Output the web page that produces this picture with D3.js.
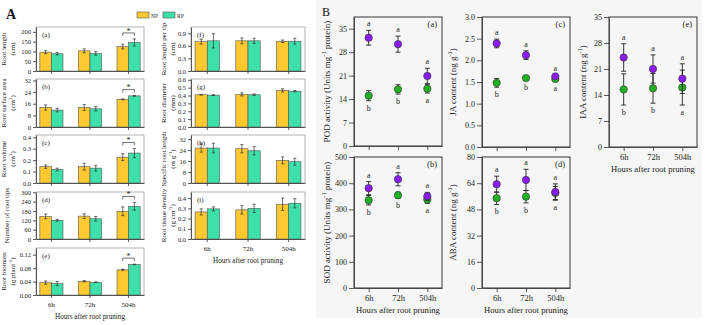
<!DOCTYPE html>
<html>
<head>
<meta charset="utf-8">
<script src="https://cdn.jsdelivr.net/npm/d3@7/dist/d3.min.js"></script>
<style>
  body { margin: 0; background: #fff; }
  svg { display: block; font-family: "Liberation Serif", "DejaVu Serif", serif; }
</style>
</head>
<body>
<script>
const hours = ['6h', '72h', '504h'];

// A: root morphology, NP vs RP (mean, SE)
const lengthNP = [96, 103, 125], lengthNPse = [8, 10, 12];
const lengthRP = [88, 90, 146], lengthRPse = [6, 9, 18];
const areaNP = [13.4, 13.4, 19.0], areaNPse = [1.8, 2.0, 0.3];
const areaRP = [11.6, 12.5, 21.4], areaRPse = [1.2, 1.5, 0.3];
const volumeNP = [0.143, 0.143, 0.226], volumeNPse = [0.015, 0.03, 0.03];
const volumeRP = [0.118, 0.13, 0.262], volumeRPse = [0.012, 0.025, 0.04];
const tipsNP = [145, 147, 178], tipsNPse = [15, 15, 28];
const tipsRP = [120, 130, 210], tipsRPse = [6, 15, 25];
const biomassNP = [0.037, 0.041, 0.075], biomassNPse = [0.005, 0.002, 0.002];
const biomassRP = [0.034, 0.038, 0.091], biomassRPse = [0.006, 0.001, 0.001];
const perTipNP = [0.70, 0.72, 0.71], perTipNPse = [0.06, 0.07, 0.03];
const perTipRP = [0.72, 0.72, 0.71], perTipRPse = [0.17, 0.06, 0.07];
const diameterNP = [0.41, 0.415, 0.465], diameterNPse = [0.005, 0.02, 0.02];
const diameterRP = [0.405, 0.41, 0.455], diameterRPse = [0.005, 0.01, 0.008];
const srlNP = [25.5, 25, 16.5], srlNPse = [3, 3, 2.5];
const srlRP = [25.5, 23.5, 15.5], srlRPse = [3.5, 3, 2.5];
const densityNP = [0.265, 0.285, 0.34], densityNPse = [0.03, 0.04, 0.06];
const densityRP = [0.295, 0.30, 0.35], densityRPse = [0.02, 0.04, 0.045];

// B: enzymes and hormones, RP (purple) vs NP (green)
const podRP = [32.3, 30.4, 20.9], podRPse = [2.2, 2.4, 2.3];
const podNP = [15.0, 16.9, 17.1], podNPse = [1.5, 1.4, 1.3];
const sodRP = [381, 415, 350], sodRPse = [25, 25, 15];
const sodNP = [335, 354, 338], sodNPse = [18, 12, 15];
const jaRP = [2.39, 2.12, 1.63], jaRPse = [0.1, 0.1, 0.04];
const jaNP = [1.48, 1.59, 1.57], jaNPse = [0.1, 0.04, 0.04];
const abaRP = [63.4, 66, 58.6], abaRPse = [4.9, 6.5, 5];
const abaNP = [54.8, 55.8, 58], abaNPse = [3.8, 3.8, 4];
const iaaRP = [24.1, 21.0, 18.4], iaaRPse = [3.7, 3.8, 4.0];
const iaaNP = [15.5, 15.8, 16.0], iaaNPse = [4.2, 4.0, 4.7];
const lettersRP = ['a', 'a', 'a'];
const lettersNP = ['b', 'b', 'a'];

const colNP = '#fdc830', colRP = '#3de0aa';
const colPurple = '#8a1cf0', colGreen = '#22b022';

const svg = d3.select('body').append('svg').attr('width', 705).attr('height', 325);

// light backdrop behind part B
svg.append('rect').attr('x', 316).attr('y', 0).attr('width', 386).attr('height', 318).attr('fill', '#f6f6f6');

// text with ^{..} superscripts
function rich(text, str, size) {
	let up = false;
	str.split(/(\^\{[^}]*\})/).forEach((s) => {
		if (!s) return;
		const m = s.match(/^\^\{(.*)\}$/);
		if (m) {
			text.append('tspan').attr('dy', -size * 0.4).attr('font-size', size * 0.7).text(m[1]);
			up = true;
		} else {
			text.append('tspan').attr('dy', up ? size * 0.4 : 0).text(s);
			up = false;
		}
	});
}

function yTitle(lines, xs, cy, size) {
	lines.forEach((line, i) => {
		const t = svg.append('text')
			.attr('transform', `translate(${xs[i]},${cy}) rotate(-90)`)
			.attr('text-anchor', 'middle')
			.attr('dy', '0.35em')
			.attr('font-size', size)
			.attr('fill', '#222');
		rich(t, line, size);
	});
}

function styleAxis(g, size) {
	g.attr('font-family', null).attr('font-size', size);
	g.selectAll('text').attr('fill', '#222');
	g.selectAll('line,path').attr('stroke', '#333').attr('stroke-width', 0.8);
}

// ---------- A: grouped bars ----------
const colsA = [[36, 144], [191, 305]];
const rowsA = [[27, 71], [79, 127], [135, 183], [192, 239], [248, 295]];
const titleX = [[6, 15], [166, 175]];

const barPanels = [
	{ tag: '(a)', col: 0, row: 0, title: ['Root length', '(cm)'], max: 225, ticks: [0, 50, 100, 150, 200], fmt: 'd',
		np: lengthNP, npSe: lengthNPse, rp: lengthRP, rpSe: lengthRPse, sig: true },
	{ tag: '(b)', col: 0, row: 1, title: ['Root surface area', '(cm^{2})'], max: 33, ticks: [0, 8, 16, 24, 32], fmt: 'd',
		np: areaNP, npSe: areaNPse, rp: areaRP, rpSe: areaRPse, sig: true },
	{ tag: '(c)', col: 0, row: 2, title: ['Root volume', '(cm^{3})'], max: 0.42, ticks: [0, 0.1, 0.2, 0.3, 0.4], fmt: '.1f',
		np: volumeNP, npSe: volumeNPse, rp: volumeRP, rpSe: volumeRPse, sig: true },
	{ tag: '(d)', col: 0, row: 3, title: ['Number of root tips'], max: 302, ticks: [0, 60, 120, 180, 240, 300], fmt: 'd',
		np: tipsNP, npSe: tipsNPse, rp: tipsRP, rpSe: tipsRPse, sig: true },
	{ tag: '(e)', col: 0, row: 4, title: ['Root biomass', '(g plant^{-1})'], max: 0.14, ticks: [0, 0.04, 0.08, 0.12], fmt: '.2f',
		np: biomassNP, npSe: biomassNPse, rp: biomassRP, rpSe: biomassRPse, sig: true, bottom: true },
	{ tag: '(f)', col: 1, row: 0, title: ['Root length per tip', '(cm)'], max: 1.05, ticks: [0, 0.3, 0.6, 0.9], fmt: '.1f',
		np: perTipNP, npSe: perTipNPse, rp: perTipRP, rpSe: perTipRPse },
	{ tag: '(g)', col: 1, row: 1, title: ['Root diameter', '(mm)'], max: 0.61, ticks: [0, 0.1, 0.2, 0.3, 0.4, 0.5, 0.6], fmt: '.1f',
		np: diameterNP, npSe: diameterNPse, rp: diameterRP, rpSe: diameterRPse },
	{ tag: '(h)', col: 1, row: 2, title: ['Specific root length', '(m g^{-1})'], max: 35, ticks: [0, 8, 16, 24, 32], fmt: 'd',
		np: srlNP, npSe: srlNPse, rp: srlRP, rpSe: srlRPse },
	{ tag: '(i)', col: 1, row: 3, title: ['Root tissue density', '(g cm^{-3})'], max: 0.46, ticks: [0, 0.1, 0.2, 0.3, 0.4], fmt: '.1f',
		np: densityNP, npSe: densityNPse, rp: densityRP, rpSe: densityRPse, bottom: true },
];

function barPanel(p) {
	const [x0, x1] = colsA[p.col];
	const [y0, y1] = rowsA[p.row];
	const x = d3.scaleBand().domain(hours).range([x0, x1]).paddingInner(0.4).paddingOuter(0.1);
	const sub = d3.scaleBand().domain(['NP', 'RP']).range([0, x.bandwidth()]);
	const y = d3.scaleLinear().domain([0, p.max]).range([y1, y0]);
	const g = svg.append('g');

	g.append('rect').attr('x', x0).attr('y', y0).attr('width', x1 - x0).attr('height', y1 - y0)
		.attr('fill', 'none').attr('stroke', '#a0a0a0').attr('stroke-width', 0.8);

	const series = [
		{ key: 'NP', vals: p.np, se: p.npSe, fill: colNP },
		{ key: 'RP', vals: p.rp, se: p.rpSe, fill: colRP },
	];
	series.forEach((s) => {
		const cells = hours.map((h, i) => ({ h, v: s.vals[i], e: s.se[i] }));
		g.selectAll(null).data(cells).join('rect')
			.attr('x', (d) => x(d.h) + sub(s.key))
			.attr('y', (d) => y(d.v))
			.attr('width', sub.bandwidth())
			.attr('height', (d) => y(0) - y(d.v))
			.attr('fill', s.fill)
			.attr('stroke', '#555')
			.attr('stroke-width', 0.6);
		const cx = (d) => x(d.h) + sub(s.key) + sub.bandwidth() / 2;
		g.selectAll(null).data(cells).join('path')
			.attr('d', (d) => {
				const a = y(d.v + d.e), b = y(d.v - d.e), c = cx(d);
				return `M${c - 1.6},${a}H${c + 1.6}M${c},${a}V${b}M${c - 1.6},${b}H${c + 1.6}`;
			})
			.attr('fill', 'none').attr('stroke', '#333').attr('stroke-width', 0.7);
	});

	// significance bracket on 504h
	if (p.sig) {
		const i = 2, h = hours[i];
		const top = Math.max(p.np[i] + p.npSe[i], p.rp[i] + p.rpSe[i]);
		const by = Math.max(y0 + 4, y(top) - 6);
		const c1 = x(h) + sub('NP') + sub.bandwidth() / 2;
		const c2 = x(h) + sub('RP') + sub.bandwidth() / 2;
		g.append('path').attr('d', `M${c1},${by + 3}V${by}H${c2}V${by + 3}`)
			.attr('fill', 'none').attr('stroke', '#333').attr('stroke-width', 0.7);
		g.append('text').attr('x', (c1 + c2) / 2).attr('y', by + 1).attr('text-anchor', 'middle')
			.attr('font-size', 8).attr('fill', '#222').text('*');
	}

	g.append('text').attr('x', x0 + 6).attr('y', y0 + 10).attr('font-size', 7).attr('fill', '#222').text(p.tag);

	const ya = g.append('g').attr('transform', `translate(${x0},0)`)
		.call(d3.axisLeft(y).tickValues(p.ticks).tickFormat(d3.format(p.fmt)).tickSize(3).tickPadding(2).tickSizeOuter(0));
	styleAxis(ya, 6.5);
	const xa = g.append('g').attr('transform', `translate(0,${y1})`)
		.call(d3.axisBottom(x).tickSize(3).tickPadding(4).tickSizeOuter(0).tickFormat(p.bottom ? null : () => ''));
	styleAxis(xa, 7);

	yTitle(p.title, p.title.length > 1 ? titleX[p.col] : [titleX[p.col][0] + 3], (y0 + y1) / 2, 7);

	if (p.bottom) {
		svg.append('text').attr('x', (x0 + x1) / 2).attr('y', y1 + 24).attr('text-anchor', 'middle')
			.attr('font-size', 7.2).attr('fill', '#222').text('Hours after root pruning');
	}
}
barPanels.forEach(barPanel);

// legend and part label for A
svg.append('text').attr('x', 6).attr('y', 19).attr('font-size', 14).attr('font-weight', 'bold').attr('fill', '#111').text('A');
[{ k: 'NP', c: colNP, x: 137 }, { k: 'RP', c: colRP, x: 163 }].forEach((d) => {
	svg.append('rect').attr('x', d.x).attr('y', 12).attr('width', 12).attr('height', 6)
		.attr('fill', d.c).attr('stroke', '#555').attr('stroke-width', 0.6);
	svg.append('text').attr('x', d.x + 14).attr('y', 17.5).attr('font-size', 5.5).attr('fill', '#222').text(d.k);
});

// ---------- B: mean +/- SE points ----------
const dotPanels = [
	{ tag: '(a)', box: [354, 442, 17, 146], max: 38.5, ticks: [0, 7, 14, 21, 28, 35], fmt: 'd',
		title: 'POD activity (Units mg^{-1} protein)', tx: 330,
		rp: podRP, rpSe: podRPse, np: podNP, npSe: podNPse },
	{ tag: '(b)', box: [354, 442, 157, 288], max: 500, ticks: [0, 100, 200, 300, 400, 500], fmt: 'd',
		title: 'SOD activity (Units mg^{-1} protein)', tx: 330,
		rp: sodRP, rpSe: sodRPse, np: sodNP, npSe: sodNPse, bottom: true },
	{ tag: '(c)', box: [482, 570, 17, 147], max: 3, ticks: [0, 0.5, 1, 1.5, 2, 2.5, 3], fmt: '.1f',
		title: 'JA content (ng g^{-1})', tx: 456,
		rp: jaRP, rpSe: jaRPse, np: jaNP, npSe: jaNPse },
	{ tag: '(d)', box: [482, 570, 157, 288], max: 80, ticks: [0, 16, 32, 48, 64, 80], fmt: 'd',
		title: 'ABA content (ng g^{-1})', tx: 456,
		rp: abaRP, rpSe: abaRPse, np: abaNP, npSe: abaNPse, bottom: true },
	{ tag: '(e)', box: [609, 697, 17, 147], max: 35, ticks: [0, 7, 14, 21, 28, 35], fmt: 'd',
		title: 'IAA content (ng g^{-1})', tx: 586,
		rp: iaaRP, rpSe: iaaRPse, np: iaaNP, npSe: iaaNPse, bottom: true },
];

function dotPanel(p) {
	const [x0, x1, y0, y1] = p.box;
	const x = d3.scalePoint().domain(hours).range([x0, x1]).padding(0.5);
	const y = d3.scaleLinear().domain([0, p.max]).range([y1, y0]);
	const g = svg.append('g');

	g.append('rect').attr('x', x0).attr('y', y0).attr('width', x1 - x0).attr('height', y1 - y0)
		.attr('fill', 'none').attr('stroke', '#222').attr('stroke-width', 0.9);

	const series = [
		{ vals: p.np, se: p.npSe, fill: colGreen, letters: lettersNP, above: false },
		{ vals: p.rp, se: p.rpSe, fill: colPurple, letters: lettersRP, above: true },
	];
	series.forEach((s) => {
		const pts = hours.map((h, i) => ({ h, v: s.vals[i], e: s.se[i], l: s.letters[i] }));
		g.selectAll(null).data(pts).join('path')
			.attr('d', (d) => {
				const a = y(d.v + d.e), b = y(d.v - d.e), c = x(d.h);
				return `M${c - 2.5},${a}H${c + 2.5}M${c},${a}V${b}M${c - 2.5},${b}H${c + 2.5}`;
			})
			.attr('fill', 'none').attr('stroke', '#222').attr('stroke-width', 0.9);
		g.selectAll(null).data(pts).join('circle')
			.attr('cx', (d) => x(d.h)).attr('cy', (d) => y(d.v)).attr('r', 3.7)
			.attr('fill', s.fill).attr('stroke', '#333').attr('stroke-width', 0.6);
		g.selectAll(null).data(pts).join('text')
			.attr('x', (d) => x(d.h))
			.attr('y', (d) => (s.above ? y(d.v + d.e) - 4 : y(d.v - d.e) + 10))
			.attr('text-anchor', 'middle').attr('font-size', 8).attr('fill', '#222')
			.text((d) => d.l);
	});

	g.append('text').attr('x', x1 - 5).attr('y', y0 + 10).attr('text-anchor', 'end')
		.attr('font-size', 8.5).attr('fill', '#222').text(p.tag);

	const ya = g.append('g').attr('transform', `translate(${x0},0)`)
		.call(d3.axisLeft(y).tickValues(p.ticks).tickFormat(d3.format(p.fmt)).tickSize(5).tickPadding(2).tickSizeOuter(0));
	styleAxis(ya, 8);
	const xa = g.append('g').attr('transform', `translate(0,${y1})`)
		.call(d3.axisBottom(x).tickSize(4).tickPadding(3).tickSizeOuter(0).tickFormat(p.bottom ? null : () => ''));
	styleAxis(xa, 8.5);

	yTitle([p.title], [p.tx], (y0 + y1) / 2, 9);

	if (p.bottom) {
		svg.append('text').attr('x', (x0 + x1) / 2).attr('y', y1 + 25).attr('text-anchor', 'middle')
			.attr('font-size', 8.6).attr('fill', '#222').text('Hours after root pruning');
	}
}
dotPanels.forEach(dotPanel);

svg.append('text').attr('x', 322).attr('y', 16).attr('font-size', 12).attr('fill', '#111').text('B');
</script>
</body>
</html>
